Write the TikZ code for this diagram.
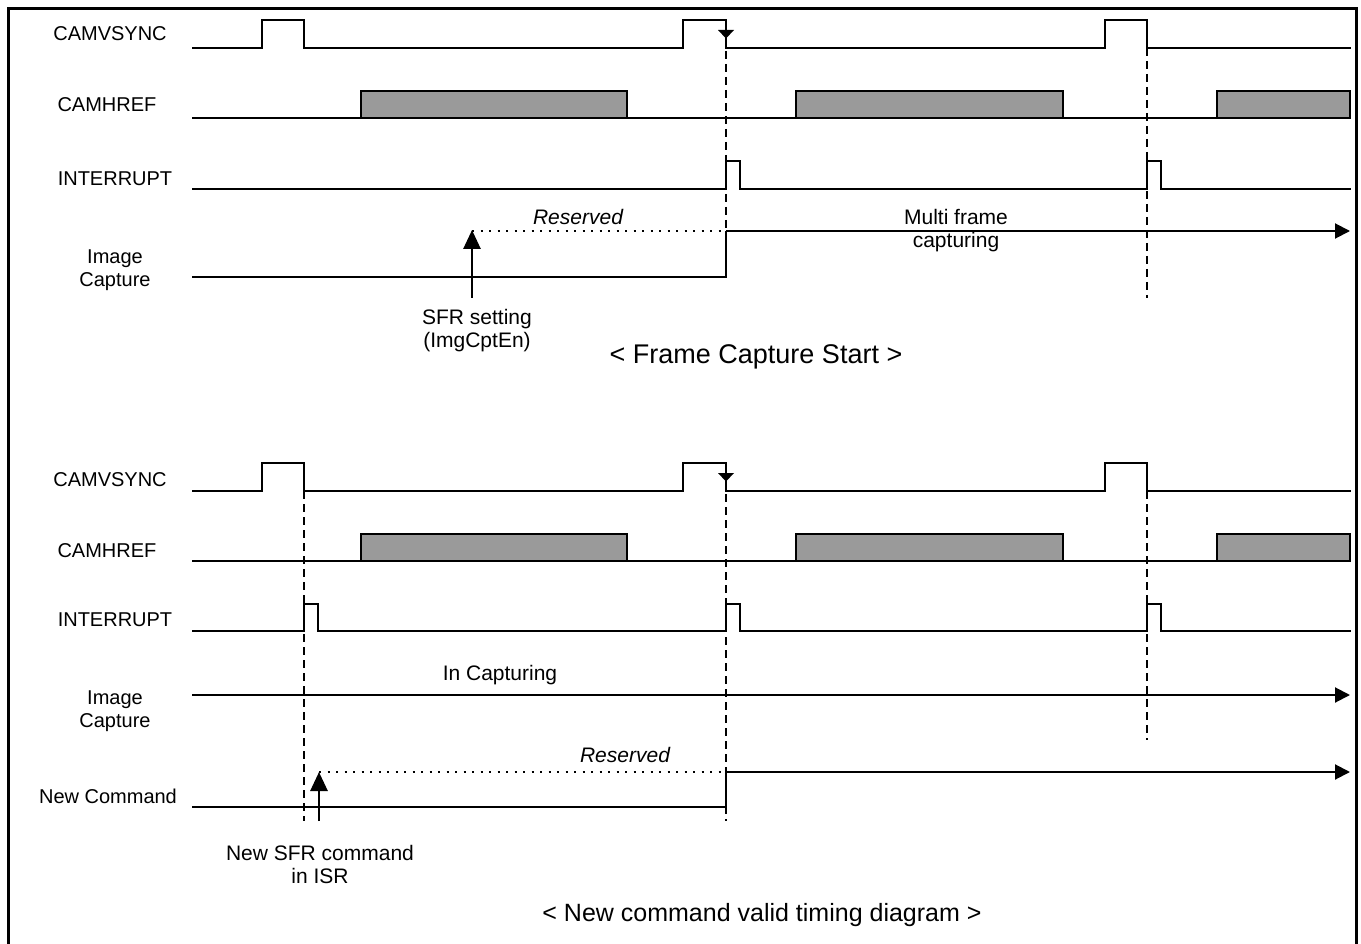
\documentclass[tikz,border=0pt]{standalone}
\usepackage{fontspec}
\setmainfont{Liberation Sans}
\usetikzlibrary{arrows.meta}
\definecolor{hrefgray}{RGB}{154,154,154}
\begin{document}
\begin{tikzpicture}[x=1pt,y=-1pt,
  sig/.style={line width=2pt, line join=miter},
  vdash/.style={line width=1.8pt, dash pattern=on 8pt off 5pt},
  dots/.style={line width=2pt, dash pattern=on 2pt off 6.5pt},
  lbl/.style={font=\fontsize{20}{23}\selectfont, align=center, inner sep=0pt},
  txt/.style={font=\fontsize{21}{23}\selectfont, align=center, inner sep=0pt},
  captxt/.style={font=\fontsize{25}{28}\selectfont, inner sep=0pt},
  hbox/.style={sig, fill=hrefgray},
  bigarrow/.style={sig, -{Triangle[length=15pt,width=15pt]}},
  uparrow/.style={line width=2.8pt, -{Triangle[length=19pt,width=17pt]}},
  marker/.style={fill=black},
]
\useasboundingbox (0,0) rectangle (1361,944);
% frame
\draw[line width=3.8pt] (8.5,980) -- (8.5,8.5) -- (1356.5,8.5) -- (1356.5,980);

% ================= top diagram =================
\node[lbl] (tvs) at (110,34) {CAMVSYNC};
\node[lbl] (thr) at (107,105) {CAMHREF};
\node[lbl] (tin) at (115,179) {INTERRUPT};
\node[lbl] (tic) at (115,270) {Image\\Capture};

\draw[sig] (192,48) -- (262,48) -- (262,20) -- (304,20) -- (304,48) -- (683,48) -- (683,20) -- (726,20) -- (726,48) -- (1105,48) -- (1105,20) -- (1147,20) -- (1147,48) -- (1351,48);
\fill[marker] (718,30) -- (734,30) -- (726,38.5) -- cycle;

\draw[sig] (192,118) -- (1351,118);
\draw[hbox] (361,118) rectangle (627,91);
\draw[hbox] (796,118) rectangle (1063,91);
\draw[hbox] (1217,118) rectangle (1350,91);

\draw[sig] (192,189) -- (726,189) -- (726,161) -- (740,161) -- (740,189) -- (1147,189) -- (1147,161) -- (1161,161) -- (1161,189) -- (1351,189);

\coordinate (trise) at (726,231);
\coordinate (tsfr) at (472,231);
\draw[sig] (192,277) -- (726,277) -- (trise);
\draw[bigarrow] (trise) -- (1350,231);
\draw[dots] (tsfr) -- (trise);
\draw[uparrow] (472,298) -- (472,230);

\draw[vdash] (726,38) -- (726,277);
\draw[vdash] (1147,48) -- (1147,298);

\node[txt] (tres) at (578,217) {\itshape Reserved};
\node[txt] (tmf) at (956,231) {Multi frame\\capturing};
\node[txt] (tsfrl) at (477,331) {SFR setting\\(ImgCptEn)};
\node[captxt, font=\fontsize{27}{30}\selectfont] (tcap) at (756,357) {< Frame Capture Start >};

% ================= bottom diagram =================
\node[lbl] (bvs) at (110,480) {CAMVSYNC};
\node[lbl] (bhr) at (107,551) {CAMHREF};
\node[lbl] (bin) at (115,620) {INTERRUPT};
\node[lbl] (bic) at (115,711) {Image\\Capture};
\node[lbl] (bnc) at (108,796) {New Command};

\draw[sig] (192,491) -- (262,491) -- (262,463) -- (304,463) -- (304,491) -- (683,491) -- (683,463) -- (726,463) -- (726,491) -- (1105,491) -- (1105,463) -- (1147,463) -- (1147,491) -- (1351,491);
\fill[marker] (718,473) -- (734,473) -- (726,481.5) -- cycle;

\draw[sig] (192,561) -- (1351,561);
\draw[hbox] (361,561) rectangle (627,534);
\draw[hbox] (796,561) rectangle (1063,534);
\draw[hbox] (1217,561) rectangle (1350,534);

\draw[sig] (192,631) -- (304,631) -- (304,604) -- (318,604) -- (318,631) -- (726,631) -- (726,604) -- (740,604) -- (740,631) -- (1147,631) -- (1147,604) -- (1161,604) -- (1161,631) -- (1351,631);

\draw[bigarrow] (192,695) -- (1350,695);
\node[txt] (bcap) at (500,675) {In Capturing};

\coordinate (brise) at (726,772);
\coordinate (bsfr) at (319,772);
\draw[sig] (192,807) -- (726,807) -- (brise);
\draw[bigarrow] (brise) -- (1350,772);
\draw[dots] (bsfr) -- (brise);
\draw[uparrow] (319,821) -- (319,772);

\draw[vdash] (304,491) -- (304,821);
\draw[vdash] (726,481) -- (726,821);
\draw[vdash] (1147,491) -- (1147,740);

\node[txt] (bres) at (625,755) {\itshape Reserved};
\node[txt] (bsfrl) at (320,864) {New SFR command\\in ISR};
\node[captxt] (bcapt) at (762,915) {< New command valid timing diagram >};
\end{tikzpicture}
\end{document}
